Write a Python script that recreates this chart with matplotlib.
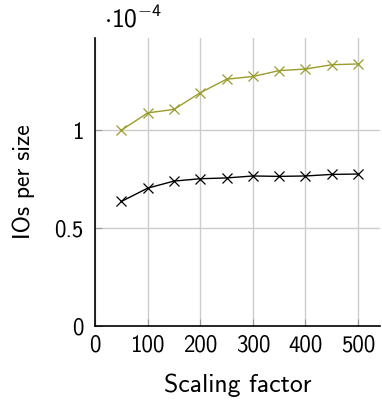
import matplotlib
matplotlib.use("Agg")
import matplotlib.pyplot as plt

# values (y in units of 1e-4)
scaling = [50, 100, 150, 200, 250, 300, 350, 400, 450, 500]
ios_olive = [1.000, 1.088, 1.106, 1.191, 1.260, 1.274, 1.304, 1.312, 1.334, 1.338]
ios_black = [0.636, 0.704, 0.740, 0.752, 0.756, 0.766, 0.764, 0.766, 0.774, 0.776]

xticks = [0, 100, 200, 300, 400, 500]
yticks = [0, 0.5, 1]
ytick_labels = ["0", "0.5", "1"]

plt.rcParams["font.family"] = ["cmss10", "DejaVu Sans"]
plt.rcParams["mathtext.fontset"] = "custom"
plt.rcParams["mathtext.rm"] = "cmss10"
plt.rcParams["axes.unicode_minus"] = False

fs = 16.5
fig = plt.figure(figsize=(3.82, 4.01), dpi=100)
ax = fig.add_axes([0.249, 0.187, 0.746, 0.718])

ax.plot(scaling, ios_olive, color="#9b9b2c", lw=1.0, marker="x", ms=7, mew=0.9)
ax.plot(scaling, ios_black, color="black", lw=1.0, marker="x", ms=7, mew=0.9)

ax.set_xlim(0, 542)
ax.set_ylim(0, 1.47)
ax.set_xticks(xticks)
ax.set_xticklabels([str(t) for t in xticks], fontsize=fs)
ax.set_yticks(yticks)
ax.set_yticklabels(ytick_labels, fontsize=fs)
ax.grid(True, color="#cccccc", lw=1.0)
ax.set_axisbelow(True)
ax.tick_params(direction="in", length=5, color="#999999")
ax.tick_params(axis="x", pad=6)
ax.tick_params(axis="y", pad=8.5)

for s in ["top", "right"]:
    ax.spines[s].set_visible(False)
for s in ["left", "bottom"]:
    ax.spines[s].set_linewidth(1.2)

ax.set_xlabel("Scaling factor", fontsize=18.5, labelpad=12)
ax.set_ylabel("IOs per size", fontsize=17, labelpad=14)
ax.text(0.03, 1.02, r"$\cdot 10^{-4}$", transform=ax.transAxes,
        fontsize=18.5, ha="left", va="bottom")

fig.savefig("out.png", dpi=100)
